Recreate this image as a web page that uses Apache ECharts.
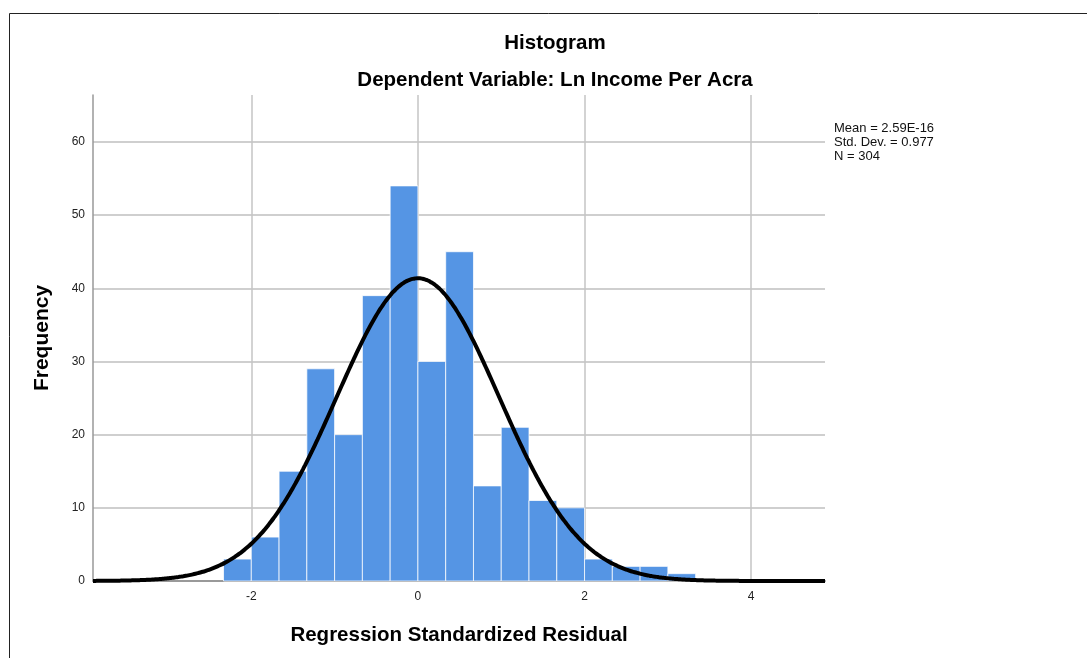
<!DOCTYPE html>
<html>
<head>
<meta charset="utf-8">
<script src="https://cdn.jsdelivr.net/npm/echarts@6/dist/echarts.min.js"></script>
<style>
html, body { margin: 0; padding: 0; background: #fff; }
#chart { width: 1087px; height: 658px; }
</style>
</head>
<body>
<div id="chart"></div>
<script>
// histogram bins (lower edges), width 1/3
var binStarts = [-7/3, -2, -5/3, -4/3, -1, -2/3, -1/3, 0, 1/3, 2/3, 1, 4/3, 5/3, 2, 7/3, 8/3, 3];
var binWidth = 1 / 3;
var counts = [3, 6, 15, 29, 20, 39, 54, 30, 45, 13, 21, 11, 10, 3, 2, 2, 1];
var xTicks = [-2, 0, 2, 4];
// stats shown in the legend text
var mean = 2.59e-16;
var stdDev = 0.977;
var nObs = 304;

var xMin = -3.9, xMax = 4.886;

var barData = binStarts.map(function (s, i) { return [s, s + binWidth, counts[i]]; });

// normal curve scaled to the histogram (N * bin width * pdf)
var curve = [];
for (var i = 0; i <= 300; i++) {
  var x = xMin + (xMax - xMin) * i / 300;
  var z = (x - mean) / stdDev;
  curve.push([x, nObs * binWidth * Math.exp(-0.5 * z * z) / (stdDev * Math.sqrt(2 * Math.PI))]);
}

var chart = echarts.init(document.getElementById('chart'));
var font = '"Liberation Sans", Arial, sans-serif';

var option = {
  animation: false,
  textStyle: { fontFamily: font },
  title: [
    { text: 'Histogram', left: 550, top: 28, textAlign: 'center',
      textStyle: { fontSize: 20.5, fontWeight: 'bold', color: '#000', fontFamily: font } },
    { text: 'Dependent Variable: Ln Income Per Acra', left: 550, top: 65, textAlign: 'center',
      textStyle: { fontSize: 20.5, fontWeight: 'bold', color: '#000', fontFamily: font } }
  ],
  graphic: [
    { type: 'rect', shape: { x: 9.5, y: 13.5, width: 1100, height: 700 },
      style: { fill: null, stroke: '#222', lineWidth: 1 }, silent: true },
    { type: 'text', left: 834, top: 121,
      style: { text: 'Mean = 2.59E-16\nStd. Dev. = 0.977\nN = 304', fontSize: 13, lineHeight: 14,
        fill: '#111', fontFamily: font } }
  ],
  grid: { left: 93, top: 95, width: 732, height: 486, containLabel: false },
  xAxis: {
    type: 'value', min: xMin, max: xMax,
    name: 'Regression Standardized Residual', nameLocation: 'middle', nameGap: 44,
    nameTextStyle: { fontSize: 20.5, fontWeight: 'bold', color: '#000' },
    axisLine: { show: true, onZero: false, lineStyle: { color: '#999', width: 2 } },
    axisTick: { show: false, customValues: xTicks },
    axisLabel: { customValues: xTicks, color: '#222', fontSize: 12, margin: 10 },
    splitLine: { show: true, lineStyle: { color: '#c4c4c4', width: 1.5 } }
  },
  yAxis: {
    type: 'value', min: 0, max: 66.42, interval: 10,
    name: 'Frequency', nameLocation: 'middle', nameGap: 40, nameRotate: 90,
    nameTextStyle: { fontSize: 21, fontWeight: 'bold', color: '#000' },
    axisLine: { show: true, onZero: false, lineStyle: { color: '#999', width: 1.5 } },
    axisTick: { show: false },
    axisLabel: { color: '#222', fontSize: 12, margin: 8, showMaxLabel: false },
    splitLine: { show: true, showMaxLine: false, showMinLine: false, lineStyle: { color: '#cfcfcf', width: 2 } }
  },
  series: [
    {
      type: 'custom',
      data: barData,
      encode: { x: [0, 1], y: 2 },
      renderItem: function (params, api) {
        var p0 = api.coord([api.value(0), api.value(2)]);
        var p1 = api.coord([api.value(1), 0]);
        return {
          type: 'rect',
          shape: { x: p0[0], y: p0[1], width: p1[0] - p0[0], height: p1[1] - p0[1] },
          style: { fill: '#5595e4', stroke: 'rgba(255,255,255,0.75)', lineWidth: 1 }
        };
      },
      z: 2
    },
    {
      type: 'line',
      data: curve,
      showSymbol: false,
      smooth: true,
      lineStyle: { color: '#000', width: 4 },
      z: 3
    }
  ]
};
chart.setOption(option);
</script>
</body>
</html>
